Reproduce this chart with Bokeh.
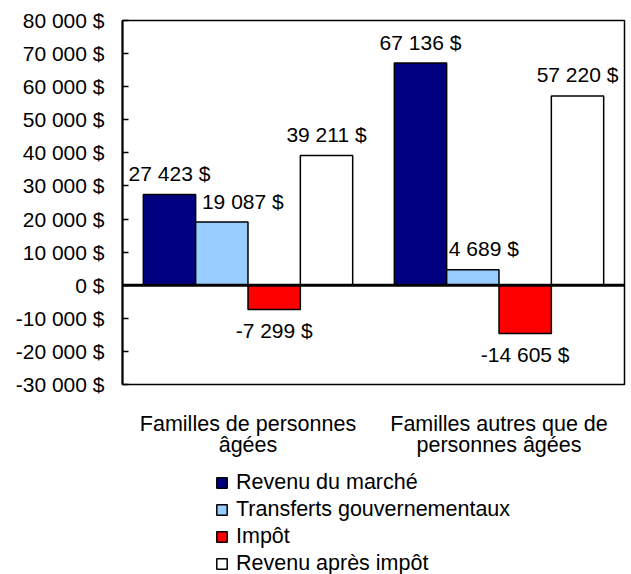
from bokeh.plotting import figure
from bokeh.layouts import column
from bokeh.models import (ColumnDataSource, FactorRange, Range1d, FixedTicker, Span,
                          Legend, LegendItem, LabelSet)
from bokeh.core.properties import value
from bokeh.transform import dodge
from bokeh.embed import file_html
from bokeh.resources import INLINE

# ---- data ----
categories = ["Familles de personnes\nâgées", "Familles autres que de\npersonnes âgées"]
series_names = ["Revenu du marché", "Transferts gouvernementaux", "Impôt", "Revenu après impôt"]
revenu_marche = [27423, 67136]
transferts = [19087, 4689]
impot = [-7299, -14605]
revenu_apres = [39211, 57220]
y_ticks = [-30000, -20000, -10000, 0, 10000, 20000, 30000, 40000, 50000, 60000, 70000, 80000]
y_tick_labels = ["-30 000 $", "-20 000 $", "-10 000 $", "0 $", "10 000 $", "20 000 $",
                 "30 000 $", "40 000 $", "50 000 $", "60 000 $", "70 000 $", "80 000 $"]

# ---- style ----
colors = ["#000080", "#99CCFF", "#FF0000", "#FFFFFF"]
offsets = [-0.3128, -0.1043, 0.1043, 0.3128]
bar_w = 0.2085
label_x_offsets = [[0, 0], [21, 11], [0, 0], [0, 0]]
FONT = "Liberation Sans"
SMALL = "21px"
BIG = "21.5px"

def fmt(v):
    return f"{v:,}".replace(",", " ") + " $"

p = figure(x_range=FactorRange(factors=categories), y_range=Range1d(-30000, 80000),
           width=626, height=466, output_backend="svg", toolbar_location=None,
           min_border_left=122, min_border_right=2, min_border_top=20, min_border_bottom=82)
p.background_fill_color = "white"
p.border_fill_color = "white"
p.outline_line_color = "black"
p.outline_line_width = 1.5
p.xgrid.visible = False
p.ygrid.visible = False

# legend figure
q = figure(width=626, height=108, output_backend="svg", toolbar_location=None,
           x_range=Range1d(0, 1), y_range=Range1d(0, 1),
           min_border_left=0, min_border_right=0, min_border_top=0, min_border_bottom=0)
q.axis.visible = False
q.grid.visible = False
q.outline_line_color = None
q.background_fill_color = "white"
q.border_fill_color = "white"

all_series = [revenu_marche, transferts, impot, revenu_apres]
legend_renderers = []
for i, vals in enumerate(all_series):
    src = ColumnDataSource(dict(
        cat=categories, val=vals, label=[fmt(v) for v in vals],
        xoff=label_x_offsets[i],
        yoff=[21 if v >= 0 else -21 for v in vals]))
    p.vbar(x=dodge("cat", offsets[i], range=p.x_range), top="val", bottom=0,
           width=bar_w, source=src, fill_color=colors[i],
           line_color="black", line_width=1.5)
    labels = LabelSet(x=dodge("cat", offsets[i], range=p.x_range), y="val", text="label",
                      x_offset="xoff", y_offset="yoff", source=src,
                      text_align="center", text_baseline="middle",
                      text_font=value(FONT), text_font_size=value(SMALL), text_color="black")
    p.add_layout(labels)
    # hidden twin renderer used only for the legend swatch
    lr = q.vbar(x="val", top="val", width=0.1, source=src, fill_color=colors[i],
                line_color="black", line_width=1.5, visible=False)
    legend_renderers.append(lr)

p.add_layout(Span(location=0, dimension="width", line_color="black", line_width=3))

# y axis
p.yaxis.ticker = FixedTicker(ticks=y_ticks)
p.yaxis.major_label_overrides = {t: l for t, l in zip(y_ticks, y_tick_labels)}
p.yaxis.major_tick_in = 6
p.yaxis.major_tick_out = 0
p.yaxis.minor_tick_line_color = None
p.yaxis.major_tick_line_width = 1.5
p.yaxis.axis_line_width = 2
p.yaxis.major_label_standoff = 18
p.yaxis.major_label_text_font = FONT
p.yaxis.major_label_text_font_size = SMALL
p.yaxis.major_label_text_color = "black"

# x axis
p.xaxis.major_tick_line_color = None
p.xaxis.minor_tick_line_color = None
p.xaxis.axis_line_color = None
p.xaxis.major_label_standoff = 21
p.xaxis.major_label_text_font = FONT
p.xaxis.major_label_text_font_size = BIG
p.xaxis.major_label_text_color = "black"
p.xaxis.major_label_text_line_height = 0.9

legend = Legend(items=[LegendItem(label=n, renderers=[r]) for n, r in zip(series_names, legend_renderers)],
                location=(93, -2), orientation="vertical", click_policy="none",
                glyph_width=13, glyph_height=13, label_standoff=8, spacing=2,
                padding=0, margin=0, border_line_color=None, background_fill_alpha=0,
                label_text_font=FONT, label_text_font_size=BIG, label_text_color="black",
                label_height=20)
q.add_layout(legend)

open("out.html", "w").write(file_html(column(p, q, spacing=0), INLINE))
